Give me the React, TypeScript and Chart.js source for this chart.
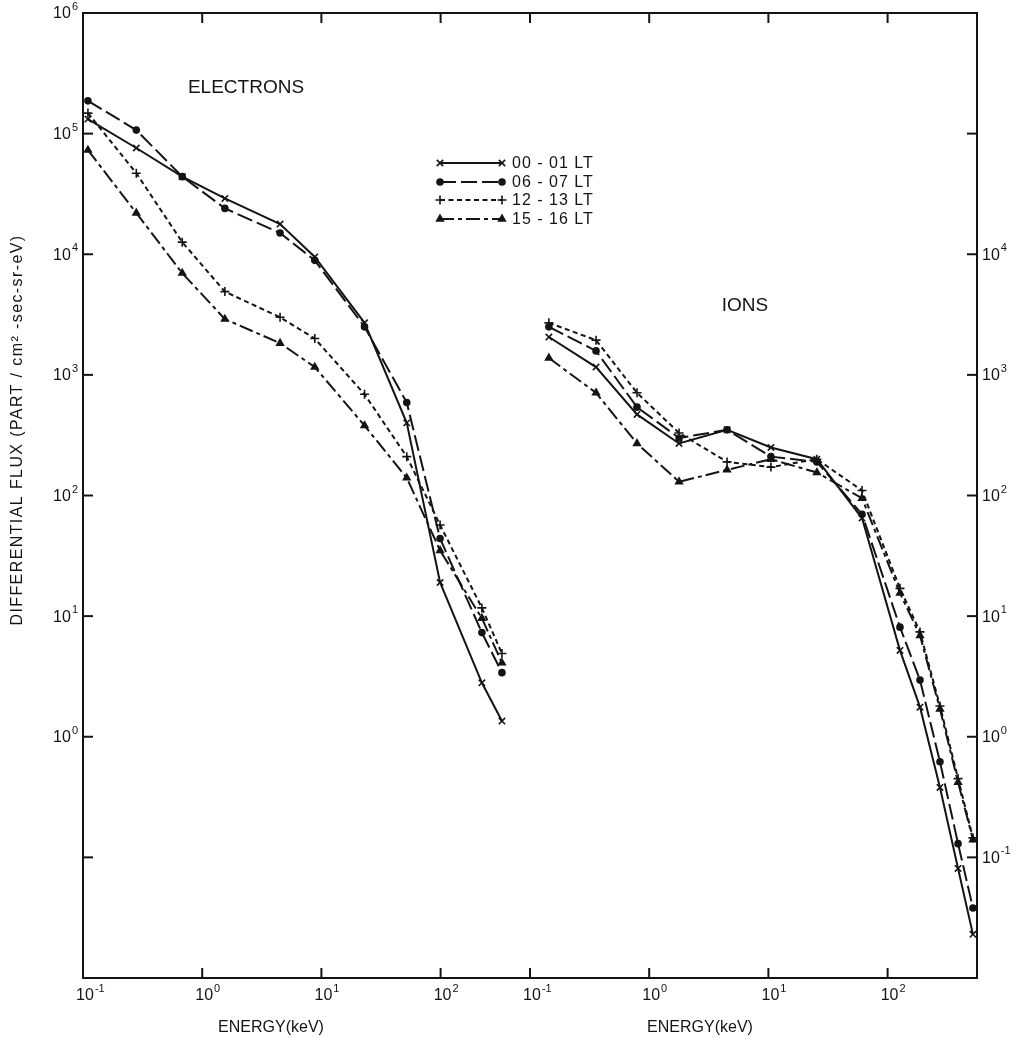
import React, { useEffect, useRef } from 'react';
import { Chart, registerables } from 'chart.js';
import { drawPoint } from 'chart.js/helpers';

Chart.register(...registerables);

// ---------- data ----------
const ELECTRON_ENERGY_KEV = [0.11, 0.28, 0.68, 1.55, 4.5, 8.8, 23, 52, 99, 222, 327];
const ION_ENERGY_KEV = [0.144, 0.358, 0.79, 1.78, 4.5, 10.5, 25.5, 61, 127, 187, 275, 390, 520];

const SERIES_LABELS = ['00 - 01 LT', '06 - 07 LT', '12 - 13 LT', '15 - 16 LT'];

const ELECTRONS_00_01 = [1.32e5, 7.6e4, 4.4e4, 2.9e4, 1.78e4, 9.5e3, 2.7e3, 4.0e2, 19, 2.8, 1.35];
const ELECTRONS_06_07 = [1.87e5, 1.07e5, 4.4e4, 2.4e4, 1.5e4, 8.9e3, 2.5e3, 5.9e2, 44, 7.3, 3.4];
const ELECTRONS_12_13 = [1.48e5, 4.7e4, 1.26e4, 4.9e3, 3.0e3, 2.0e3, 6.9e2, 2.1e2, 57, 11.7, 4.9];
const ELECTRONS_15_16 = [7.3e4, 2.2e4, 6.97e3, 2.9e3, 1.83e3, 1.16e3, 3.8e2, 1.4e2, 35, 9.6, 4.1];

const IONS_00_01 = [2.06e3, 1.16e3, 4.7e2, 2.7e2, 3.5e2, 2.5e2, 2.0e2, 65, 5.2, 1.76, 0.38, 0.081, 0.023];
const IONS_06_07 = [2.5e3, 1.58e3, 5.4e2, 3.0e2, 3.5e2, 2.1e2, 1.9e2, 70, 8.1, 2.95, 0.62, 0.13, 0.038];
const IONS_12_13 = [2.7e3, 1.94e3, 7.1e2, 3.3e2, 1.9e2, 1.72e2, 2.0e2, 110, 17, 7.4, 1.8, 0.45, 0.145];
const IONS_15_16 = [1.38e3, 7.1e2, 2.7e2, 1.3e2, 1.63e2, 2.0e2, 1.55e2, 95, 15.5, 6.9, 1.7, 0.42, 0.14];

const PANEL_TICKS_KEV = [0.1, 1, 10, 100];
const X_TICK_EXPONENTS = ['-1', '0', '1', '2', '-1', '0', '1', '2'];
const Y_DECADES = [1e-2, 1e-1, 1, 10, 100, 1e3, 1e4, 1e5, 1e6];
const Y_LEFT_EXPONENTS = [0, 1, 2, 3, 4, 5, 6];
const Y_RIGHT_EXPONENTS = [-1, 0, 1, 2, 3, 4];

// ---------- layout / style ----------
const W = 1014;
const H = 1038;
const ION_PANEL_OFFSET_DECADES = 3.75; // ion panel starts 3.75 decades to the right
const ION_SHIFT = Math.pow(10, ION_PANEL_OFFSET_DECADES);
const X_MIN = 0.1;
const X_MAX = 0.1 * Math.pow(10, 7.5);
const X_TICK_VALUES = [...PANEL_TICKS_KEV, ...PANEL_TICKS_KEV.map((v) => v * ION_SHIFT)];
const FONT = "'Liberation Sans', Arial, sans-serif";
const INK = '#141414';
const TICK_LEN = 10;

const STYLES = [
  { dash: [] as number[], point: 'crossRot', radius: 4.5 },
  { dash: [16, 5], point: 'circle', radius: 3 },
  { dash: [5, 3.5], point: 'cross', radius: 4.5 },
  { dash: [14, 4, 4, 4], point: 'triangle', radius: 3.8 },
];

const ELECTRON_SERIES = [ELECTRONS_00_01, ELECTRONS_06_07, ELECTRONS_12_13, ELECTRONS_15_16];
const ION_SERIES = [IONS_00_01, IONS_06_07, IONS_12_13, IONS_15_16];

function makeDataset(label: string, xs: number[], ys: number[], shift: number, s: (typeof STYLES)[number]) {
  return {
    label,
    data: xs.map((e, i) => ({ x: e * shift, y: ys[i] })),
    borderColor: INK,
    backgroundColor: INK,
    borderWidth: 2,
    borderDash: s.dash,
    tension: 0,
    fill: false,
    pointStyle: s.point,
    pointRadius: s.radius,
    pointBorderWidth: 1.6,
    pointBorderColor: INK,
    pointBackgroundColor: INK,
  };
}

// draws "10" with a raised exponent; mode: 'right' (right edge at x), 'left' (left edge at x), 'center' ("10" centred at x)
function drawPow(ctx: CanvasRenderingContext2D, exp: string, x: number, y: number, mode: 'right' | 'left' | 'center') {
  ctx.save();
  ctx.textAlign = 'left';
  ctx.textBaseline = 'middle';
  ctx.font = `16px ${FONT}`;
  const baseW = ctx.measureText('10').width;
  ctx.font = `11px ${FONT}`;
  const expW = ctx.measureText(exp).width;
  let x0 = x;
  if (mode === 'right') x0 = x - baseW - expW - 1;
  else if (mode === 'center') x0 = x - baseW / 2;
  ctx.font = `16px ${FONT}`;
  ctx.fillText('10', x0, y + 1);
  ctx.font = `11px ${FONT}`;
  ctx.fillText(exp, x0 + baseW + 1, y - 6);
  ctx.restore();
}

const decorPlugin = {
  id: 'decor',
  afterDraw(chart: any) {
    const { ctx, chartArea } = chart;
    const { left, right, top, bottom } = chartArea;
    const xs = chart.scales.x;
    const ys = chart.scales.y;
    ctx.save();
    ctx.strokeStyle = INK;
    ctx.fillStyle = INK;
    ctx.lineWidth = 2;
    ctx.setLineDash([]);
    const line = (x1: number, y1: number, x2: number, y2: number) => {
      ctx.beginPath();
      ctx.moveTo(x1, y1);
      ctx.lineTo(x2, y2);
      ctx.stroke();
    };
    // top frame line
    line(left, top, right, top);
    // inward ticks
    for (const v of Y_DECADES) {
      const py = ys.getPixelForValue(v);
      if (py <= top + 1 || py >= bottom - 1) continue;
      line(left, py, left + TICK_LEN, py);
      line(right - TICK_LEN, py, right, py);
    }
    for (const v of X_TICK_VALUES) {
      const px = xs.getPixelForValue(v);
      if (px <= left + 1 || px >= right - 1) continue;
      line(px, bottom, px, bottom - TICK_LEN);
      line(px, top, px, top + TICK_LEN);
    }

    // tick labels
    Y_LEFT_EXPONENTS.forEach((e) => {
      drawPow(ctx, String(e), left - 5, ys.getPixelForValue(Math.pow(10, e)), 'right');
    });
    Y_RIGHT_EXPONENTS.forEach((e) => {
      drawPow(ctx, String(e), right + 5, ys.getPixelForValue(Math.pow(10, e)), 'left');
    });
    X_TICK_VALUES.forEach((v, i) => {
      drawPow(ctx, X_TICK_EXPONENTS[i], xs.getPixelForValue(v) + 2, bottom + 17, 'center');
    });

    // texts
    ctx.textBaseline = 'middle';
    ctx.textAlign = 'center';
    ctx.font = `19px ${FONT}`;
    ctx.fillText('ELECTRONS', 246, 88);
    ctx.fillText('IONS', 745, 306);
    ctx.font = `16px ${FONT}`;
    ctx.fillText('ENERGY(keV)', 271, 1028);
    ctx.fillText('ENERGY(keV)', 700, 1028);

    // y title
    ctx.save();
    ctx.translate(18, 430);
    ctx.rotate(-Math.PI / 2);
    ctx.font = `16px ${FONT}`;
    (ctx as any).letterSpacing = '1.4px';
    ctx.fillText('DIFFERENTIAL FLUX (PART / cm² -sec-sr-eV)', 0, 0);
    ctx.restore();

    // legend
    const rowsY = [163, 182, 200, 219];
    const x1 = 440;
    const x2 = 502;
    ctx.textAlign = 'left';
    STYLES.forEach((s, i) => {
      const yy = rowsY[i];
      ctx.setLineDash(s.dash);
      ctx.lineWidth = 2;
      line(x1, yy, x2, yy);
      ctx.setLineDash([]);
      ctx.lineWidth = 1.6;
      ctx.fillStyle = INK;
      ctx.strokeStyle = INK;
      drawPoint(ctx, { pointStyle: s.point, radius: s.radius, rotation: 0, borderWidth: 1.6 } as any, x1, yy);
      drawPoint(ctx, { pointStyle: s.point, radius: s.radius, rotation: 0, borderWidth: 1.6 } as any, x2, yy);
      ctx.save();
      ctx.font = `16px ${FONT}`;
      (ctx as any).letterSpacing = '1px';
      ctx.fillText(SERIES_LABELS[i], 512, yy + 1);
      ctx.restore();
    });
    ctx.restore();
  },
};

export default function App() {
  const canvasRef = useRef<HTMLCanvasElement | null>(null);

  useEffect(() => {
    const canvas = canvasRef.current;
    if (!canvas) return;
    const datasets: any[] = [];
    STYLES.forEach((s, i) => {
      datasets.push(makeDataset(`Electrons ${SERIES_LABELS[i]}`, ELECTRON_ENERGY_KEV, ELECTRON_SERIES[i], 1, s));
      datasets.push(makeDataset(`Ions ${SERIES_LABELS[i]}`, ION_ENERGY_KEV, ION_SERIES[i], ION_SHIFT, s));
    });

    const yCommon = {
      type: 'logarithmic' as const,
      min: 1e-2,
      max: 1e6,
      grid: { display: false, drawTicks: false },
      border: { display: true, color: INK, width: 2 },
      ticks: { display: false },
      afterBuildTicks: (s: any) => {
        s.ticks = Y_DECADES.map((v) => ({ value: v }));
      },
    };

    const chart = new Chart(canvas, {
      type: 'line',
      data: { datasets },
      options: {
        animation: false,
        responsive: false,
        events: [],
        layout: { padding: { top: 13, left: 0, right: 0, bottom: 0 } },
        plugins: { legend: { display: false }, tooltip: { enabled: false } },
        scales: {
          x: {
            type: 'logarithmic',
            position: 'bottom',
            min: X_MIN,
            max: X_MAX,
            grid: { display: false, drawTicks: false },
            border: { display: true, color: INK, width: 2 },
            ticks: { display: false },
            afterBuildTicks: (s: any) => {
              s.ticks = X_TICK_VALUES.map((v) => ({ value: v }));
            },
            afterFit: (s: any) => {
              s.height = H - 978;
            },
          },
          y: {
            ...yCommon,
            position: 'left',
            afterFit: (s: any) => {
              s.width = 83;
            },
          },
          y2: {
            ...yCommon,
            position: 'right',
            afterFit: (s: any) => {
              s.width = W - 977;
            },
          },
        },
      } as any,
      plugins: [decorPlugin],
    });
    return () => chart.destroy();
  }, []);

  return (
    <div style={{ position: 'fixed', left: 0, top: 0, width: W, height: H, background: '#fff' }}>
      <canvas ref={canvasRef} width={W} height={H} style={{ display: 'block' }} />
    </div>
  );
}
